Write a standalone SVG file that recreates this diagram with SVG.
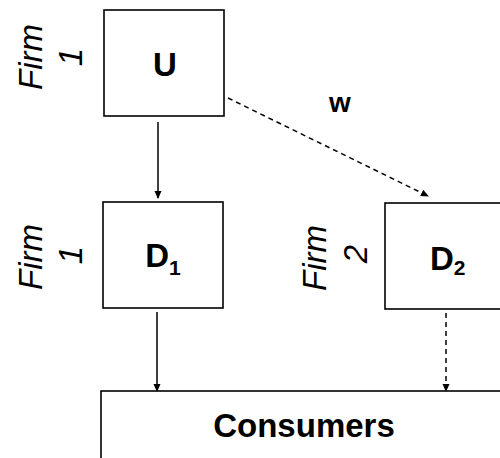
<svg xmlns="http://www.w3.org/2000/svg" width="500" height="458" viewBox="0 0 500 458">
<style>
.box{fill:#fff;stroke:#000;stroke-width:1.6}
.lbl{font-family:"Liberation Sans",Arial,sans-serif;font-weight:bold;fill:#000}
.firm{font-family:"Liberation Sans",Arial,sans-serif;font-style:italic;font-size:33px;fill:#000}
.edge{stroke:#000;stroke-width:1.5;fill:none}
.dash{stroke-dasharray:5,4}
</style>
<defs>
<marker id="ah" markerWidth="8" markerHeight="8" refX="7" refY="4" orient="auto" markerUnits="userSpaceOnUse">
<path d="M0,0.5 L8,4 L0,7.5 Z" fill="#000"/>
</marker>
</defs>
<g id="connectors">
<line class="edge" x1="158" y1="122" x2="158" y2="198" marker-end="url(#ah)"/>
<line class="edge dash" x1="228" y1="98" x2="428" y2="196" marker-end="url(#ah)"/>
<line class="edge" x1="157" y1="312" x2="157" y2="391" marker-end="url(#ah)"/>
<line class="edge dash" x1="446" y1="313" x2="446" y2="391" marker-end="url(#ah)"/>
<text class="lbl" x="340" y="112" font-size="28" text-anchor="middle">w</text>
</g>
<g id="U">
<rect class="box" x="104" y="10" width="120" height="106"/>
<text class="lbl" x="165" y="76" font-size="33" text-anchor="middle">U</text>
</g>
<g id="D1">
<rect class="box" x="103" y="202" width="120" height="106"/>
<text class="lbl" x="163" y="267" font-size="33" text-anchor="middle">D<tspan font-size="21" dy="8">1</tspan></text>
</g>
<g id="D2">
<rect class="box" x="385" y="203" width="130" height="106"/>
<text class="lbl" x="430" y="270" font-size="33">D<tspan font-size="21" dy="5">2</tspan></text>
</g>
<g id="Consumers">
<rect class="box" x="101" y="391" width="420" height="80"/>
<text class="lbl" x="304" y="437" font-size="33" text-anchor="middle">Consumers</text>
</g>
<g id="firm1-top">
<text class="firm" transform="translate(42,57) rotate(-90)" text-anchor="middle">Firm</text>
<text class="firm" transform="translate(82,57) rotate(-90)" text-anchor="middle">1</text>
</g>
<g id="firm1-bottom">
<text class="firm" transform="translate(42,257) rotate(-90)" text-anchor="middle">Firm</text>
<text class="firm" transform="translate(82,255) rotate(-90)" text-anchor="middle">1</text>
</g>
<g id="firm2">
<text class="firm" transform="translate(326,258) rotate(-90)" text-anchor="middle">Firm</text>
<text class="firm" transform="translate(367,254) rotate(-90)" text-anchor="middle">2</text>
</g>
</svg>
